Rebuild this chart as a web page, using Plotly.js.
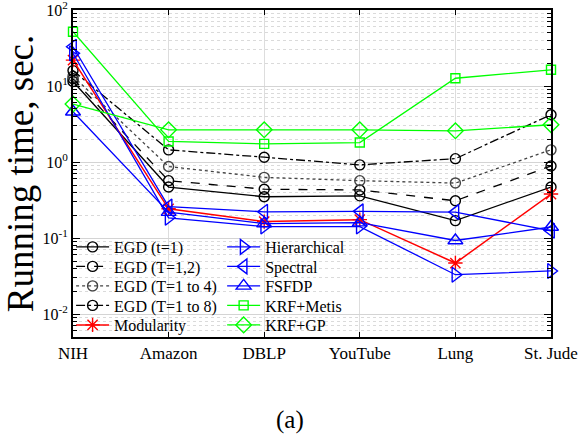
<!DOCTYPE html>
<html>
<head>
<meta charset="utf-8">
<script src="https://cdn.plot.ly/plotly-3.0.1.min.js"></script>
<style>
  html, body { margin: 0; padding: 0; background: #fff; }
  #chart { width: 580px; height: 446px; }
</style>
</head>
<body>
<div id="chart"></div>
<script>
// Datasets on the x axis
const categories = ['NIH', 'Amazon', 'DBLP', 'YouTube', 'Lung', 'St. Jude'];

// Running time (seconds) per method
const egdT1    = [11.5, 0.47, 0.35, 0.36, 0.17, 0.47];
const egdT12   = [12.5, 0.57, 0.44, 0.43, 0.31, 0.89];
const egdT14   = [13.5, 0.875, 0.63, 0.57, 0.53, 1.45];
const egdT18   = [16.0, 1.45, 1.16, 0.92, 1.11, 4.2];
const modularity   = [22, 0.243, 0.165, 0.175, 0.047, 0.38];
const hierarchical = [27, 0.185, 0.142, 0.142, 0.033, 0.037];
const spectral     = [33, 0.26, 0.222, 0.225, 0.22, 0.125];
const fsfdp        = [4.6, 0.22, 0.155, 0.16, 0.093, 0.14];
const krfMetis     = [52, 1.87, 1.74, 1.81, 12.7, 16.4];
const krfGp        = [5.8, 2.66, 2.66, 2.66, 2.58, 3.1];

// Y tick labels
const yTickVals = [0.01, 0.1, 1, 10, 100];
const yTickText = ['10<sup>-2</sup>', '10<sup>-1</sup>', '10<sup>0</sup>', '10<sup>1</sup>', '10<sup>2</sup>'];

const BLUE = '#0000ff', RED = '#ff0000', GREEN = '#00ff00', BLACK = '#000000';
const serif = 'Liberation Serif';

// Each legend entry sits in its own small legend box so the two columns
// keep a tight row pitch: [legend id, column, row]
const slots = [
  ['legend', 0, 0], ['legend2', 0, 1], ['legend3', 0, 2], ['legend4', 0, 3], ['legend5', 0, 4],
  ['legend6', 1, 0], ['legend7', 1, 1], ['legend8', 1, 2], ['legend9', 1, 3], ['legend10', 1, 4]
];

function series(name, y, color, dash, symbol, size, slot, lw) {
  return {
    type: 'scatter', mode: 'lines+markers', name: name,
    x: categories, y: y,
    line: { color: color, width: lw || 1.3, dash: dash },
    marker: { symbol: symbol, size: size, color: color,
              line: { color: color, width: 1.4 } },
    cliponaxis: false,
    legend: slots[slot][0]
  };
}

const traces = [
  series('EGD (t=1)', egdT1, BLACK, 'solid', 'circle-open', 10, 0),
  series('EGD (T=1,2)', egdT12, BLACK, 'dash', 'circle-open', 10, 1),
  series('EGD (T=1 to 4)', egdT14, '#444444', 'dot', 'circle-open', 10, 2),
  series('EGD (T=1 to 8)', egdT18, BLACK, 'dashdot', 'circle-open', 10, 3),
  series('Modularity', modularity, RED, 'solid', 'asterisk-open', 12, 4, 1.5),
  series('Hierarchical', hierarchical, BLUE, 'solid', 'triangle-right-open', 13, 5),
  series('Spectral', spectral, BLUE, 'solid', 'triangle-left-open', 13, 6),
  series('FSFDP', fsfdp, BLUE, 'solid', 'triangle-up-open', 13, 7),
  series('KRF+Metis', krfMetis, GREEN, 'solid', 'square-open', 9, 8),
  series('KRF+GP', krfGp, GREEN, 'solid', 'diamond-open', 12, 9)
];

// minor ticks: 2..9 in every decade of the visible range
const minorVals = [];
for (let e = -3; e <= 1; e++) {
  for (let k = 2; k <= 9; k++) minorVals.push(k * Math.pow(10, e));
}

const layout = {
  width: 580, height: 446,
  margin: { l: 73, r: 29, t: 10, b: 109 },
  paper_bgcolor: '#fff', plot_bgcolor: '#fff',
  font: { family: serif, color: '#000' },
  showlegend: true,
  xaxis: {
    type: 'category', range: [0, 5],
    showline: true, linecolor: '#000', linewidth: 2, mirror: 'allticks',
    ticks: 'inside', ticklen: 5, tickcolor: '#000',
    showgrid: true, gridcolor: '#dddddd', gridwidth: 1,
    tickfont: { family: serif, size: 17, color: '#000' },
    zeroline: false, fixedrange: true
  },
  yaxis: {
    type: 'log', range: [Math.log10(0.005), 2.0015],
    tickmode: 'array', tickvals: yTickVals, ticktext: yTickText,
    ticklabeloverflow: 'allow',
    showline: true, linecolor: '#000', linewidth: 2, mirror: 'allticks',
    ticks: 'inside', ticklen: 7, tickcolor: '#000',
    showgrid: true, gridcolor: '#d4d4d4', gridwidth: 1,
    tickfont: { family: serif, size: 16, color: '#000' },
    minor: {
      tickmode: 'array', tickvals: minorVals,
      ticks: 'inside', ticklen: 4, tickcolor: '#000', tickwidth: 1,
      showgrid: true, gridcolor: '#dadada', griddash: 'dot', gridwidth: 1
    },
    title: { text: 'Running time, sec.', font: { family: serif, size: 37, color: '#000' }, standoff: 3 },
    zeroline: false, fixedrange: true
  },
  annotations: [{
    text: '(a)', xref: 'paper', yref: 'paper', x: 0.454, y: -0.254,
    xanchor: 'center', yanchor: 'middle', showarrow: false,
    font: { family: serif, size: 25, color: '#000' }
  }]
};

// place the legend boxes: two columns, five rows
const colX = [-0.004, 0.312];
const rowY = [247, 266.5, 286, 305.5, 325];
const plotTop = 10, plotBottom = 337;
slots.forEach(function (s) {
  layout[s[0]] = {
    bgcolor: 'rgba(0,0,0,0)', borderwidth: 0,
    font: { family: serif, size: 16, color: '#000' },
    xanchor: 'left', x: colX[s[1]],
    yanchor: 'middle', y: (plotBottom - rowY[s[2]]) / (plotBottom - plotTop),
    itemwidth: 33, tracegroupgap: 0
  };
});

Plotly.newPlot('chart', traces, layout, { staticPlot: true, displayModeBar: false });
</script>
</body>
</html>
